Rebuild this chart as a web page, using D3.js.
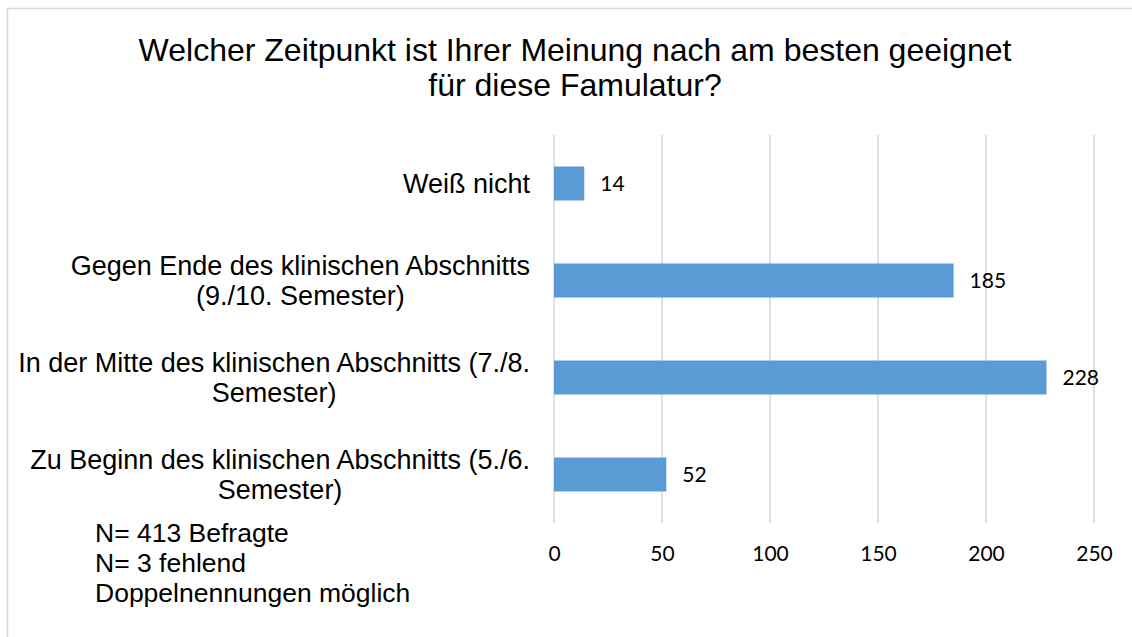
<!DOCTYPE html>
<html>
<head>
<meta charset="utf-8">
<script src="https://cdn.jsdelivr.net/npm/d3@7"></script>
<style>
  body { margin: 0; background: #fff; }
  svg { display: block; }
</style>
</head>
<body>
<div id="chart"></div>
<script>
// Chart data
const categories = [
    ['Weiß nicht'],
    ['Gegen Ende des klinischen Abschnitts', '(9./10. Semester)'],
    ['In der Mitte des klinischen Abschnitts (7./8.', 'Semester)'],
    ['Zu Beginn des klinischen Abschnitts (5./6.', 'Semester)']
];
const values = [14, 185, 228, 52];
const xTicks = [0, 50, 100, 150, 200, 250];
const titleLines = ['Welcher Zeitpunkt ist Ihrer Meinung nach am besten geeignet', 'für diese Famulatur?'];
const noteLines = ['N= 413 Befragte', 'N= 3 fehlend', 'Doppelnennungen möglich'];

const width = 1132;
const height = 637;
const labelFont = '"Liberation Sans", Arial, sans-serif';
const numFont = 'Lato, "Open Sans", sans-serif';

const svg = d3.select('#chart')
    .append('svg')
    .attr('width', width)
    .attr('height', height);

// Outer chart border (right/bottom edges fall outside the picture)
svg.append('rect')
    .attr('x', 7.5)
    .attr('y', 8.5)
    .attr('width', width + 20)
    .attr('height', height + 20)
    .attr('fill', 'none')
    .attr('stroke', '#d9d9d9')
    .attr('stroke-width', 1.5);

// Scales
const xScale = d3.scaleLinear()
    .domain([0, 250])
    .range([554, 1094]);

const yScale = d3.scaleBand()
    .domain(d3.range(categories.length))
    .range([135, 523])
    .paddingInner(0.65)
    .paddingOuter(0.325);

// Gridlines
svg.append('g')
    .selectAll('line')
    .data(xTicks)
    .enter().append('line')
    .attr('x1', d => xScale(d))
    .attr('x2', d => xScale(d))
    .attr('y1', 135)
    .attr('y2', 523)
    .attr('stroke', '#d9d9d9')
    .attr('stroke-width', 1.6);

// X axis labels
const xAxis = svg.append('g')
    .attr('transform', 'translate(0,546)')
    .call(d3.axisBottom(xScale).tickValues(xTicks).tickSize(0).tickPadding(0));
xAxis.select('.domain').remove();
xAxis.selectAll('text')
    .attr('dy', '0.71em')
    .style('font-family', numFont)
    .style('font-size', '21px')
    .attr('fill', '#000');

// Bars
svg.selectAll('rect.bar')
    .data(values)
    .enter().append('rect')
    .attr('class', 'bar')
    .attr('x', xScale(0))
    .attr('y', (d, i) => yScale(i))
    .attr('width', d => xScale(d) - xScale(0))
    .attr('height', yScale.bandwidth())
    .attr('fill', '#5b9bd5');

// Value labels
svg.selectAll('text.value')
    .data(values)
    .enter().append('text')
    .attr('class', 'value')
    .attr('x', d => xScale(d) + 16)
    .attr('y', (d, i) => yScale(i) + yScale.bandwidth() / 2)
    .attr('dy', '0.36em')
    .style('font-family', numFont)
    .style('font-size', '21px')
    .attr('fill', '#000')
    .text(d => d);

// Category labels: block right-aligned, lines centred within the block
const lineHeight = 30;
const capHalf = 9.5;
categories.forEach((lines, i) => {
    const g = svg.append('g');
    const texts = lines.map(l => g.append('text')
        .style('font-family', labelFont)
        .style('font-size', '27px')
        .attr('fill', '#000')
        .attr('text-anchor', 'middle')
        .text(l));
    const maxW = d3.max(texts, t => t.node().getComputedTextLength());
    const cx = 530 - maxW / 2;
    const cy = yScale(i) + yScale.bandwidth() / 2;
    const firstBase = cy + capHalf - (lines.length - 1) * lineHeight / 2;
    texts.forEach((t, j) => t.attr('x', cx).attr('y', firstBase + j * lineHeight));
});

// Title
svg.append('g')
    .selectAll('text')
    .data(titleLines)
    .enter().append('text')
    .attr('x', 575)
    .attr('y', (d, i) => 61 + i * 35)
    .attr('text-anchor', 'middle')
    .style('font-family', labelFont)
    .style('font-size', '32px')
    .attr('fill', '#000')
    .text(d => d);

// Notes
svg.append('g')
    .selectAll('text')
    .data(noteLines)
    .enter().append('text')
    .attr('x', 95)
    .attr('y', (d, i) => 542 + i * 30)
    .style('font-family', labelFont)
    .style('font-size', '26.5px')
    .attr('fill', '#000')
    .text(d => d);
</script>
</body>
</html>
